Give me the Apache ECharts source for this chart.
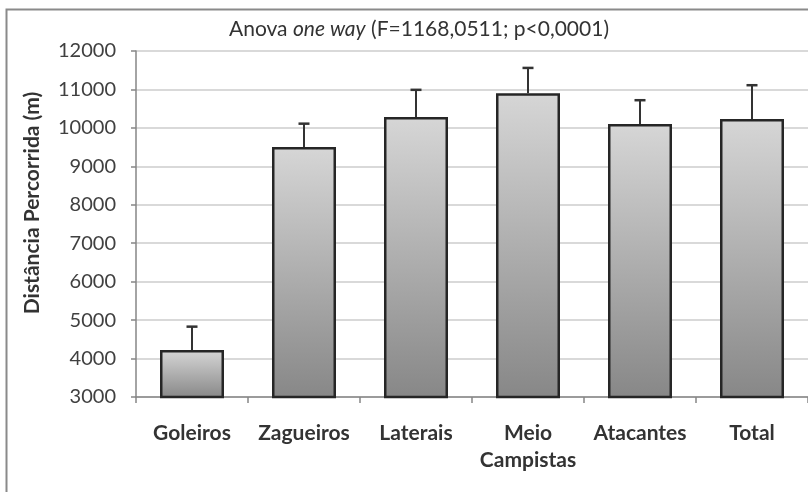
<!DOCTYPE html>
<html>
<head>
<meta charset="utf-8">
<script src="https://cdn.jsdelivr.net/npm/echarts@6/dist/echarts.min.js"></script>
<style>
html,body{margin:0;padding:0;background:#fff;}
#chart{width:808px;height:492px;}
</style>
</head>
<body>
<div id="chart"></div>
<script>
const categories = ['Goleiros', 'Zagueiros', 'Laterais', 'Meio\nCampistas', 'Atacantes', 'Total'];
const means = [4220, 9500, 10280, 10900, 10100, 10230];
const sds = [610, 610, 710, 660, 620, 880];
const yTicks = { min: 3000, max: 12000, interval: 1000 };

const FONT = 'Lato';
const chart = echarts.init(document.getElementById('chart'));

const errData = means.map((m, i) => [i, m, sds[i]]);

chart.setOption({
  animation: false,
  backgroundColor: '#ffffff',
  textStyle: { fontFamily: FONT },
  title: {
    text: '{n|Anova }{i|one way}{n| (F=1168,0511; p<0,0001)}',
    left: 414,
    textAlign: 'center',
    top: 14,
    textStyle: {
      fontWeight: 'normal',
      rich: {
        n: { fontFamily: FONT, fontSize: 21, color: '#333333', fontWeight: 'normal' },
        i: { fontFamily: FONT, fontSize: 21, color: '#333333', fontStyle: 'italic', fontWeight: 'normal' }
      }
    }
  },
  graphic: [
    {
      type: 'rect',
      shape: { x: 6.5, y: 9.5, width: 900, height: 600 },
      style: { fill: 'none', stroke: '#8a8a8a', lineWidth: 2 },
      silent: true
    },
    {
      type: 'text',
      x: 32,
      y: 203,
      rotation: Math.PI / 2,
      style: {
        text: 'Distância Percorrida (m)',
        fontFamily: FONT,
        fontSize: 21,
        fontWeight: 'bold',
        fill: '#333333',
        align: 'center',
        verticalAlign: 'middle'
      }
    }
  ],
  grid: { left: 136, top: 51, width: 686, height: 346, containLabel: false },
  xAxis: {
    type: 'category',
    data: categories,
    axisLine: { lineStyle: { color: '#868686', width: 1.5 } },
    axisTick: { show: true, length: 6, interval: 0, alignWithLabel: false, lineStyle: { color: '#868686', width: 1.5 } },
    axisLabel: {
      interval: 0,
      margin: 23,
      fontFamily: FONT,
      fontSize: 21,
      fontWeight: 'bold',
      color: '#333333',
      lineHeight: 27
    },
    splitLine: { show: false }
  },
  yAxis: {
    type: 'value',
    min: yTicks.min,
    max: yTicks.max,
    interval: yTicks.interval,
    axisLine: { show: true, lineStyle: { color: '#868686', width: 1.5 } },
    axisTick: { show: true, length: 5, lineStyle: { color: '#868686', width: 1.5 } },
    axisLabel: {
      margin: 20,
      fontFamily: FONT,
      fontSize: 20,
      color: '#404040',
      formatter: function (v) { return String(v); }
    },
    splitLine: { show: true, lineStyle: { color: '#d9d9d9', width: 2 } }
  },
  series: [
    {
      type: 'bar',
      data: means,
      barWidth: 64,
      itemStyle: {
        color: new echarts.graphic.LinearGradient(0, 0, 0, 1, [
          { offset: 0, color: '#d6d6d6' },
          { offset: 1, color: '#878787' }
        ]),
        borderColor: '#262626',
        borderWidth: 2.5
      },
      z: 2
    },
    {
      type: 'custom',
      data: errData,
      z: 3,
      renderItem: function (params, api) {
        const x = api.value(0), v = api.value(1), sd = api.value(2);
        const base = api.coord([x, v]);
        const top = api.coord([x, v + sd]);
        const half = 5.5;
        return {
          type: 'group',
          children: [
            { type: 'line', shape: { x1: base[0], y1: base[1], x2: top[0], y2: top[1] }, style: { stroke: '#333333', lineWidth: 2 } },
            { type: 'line', shape: { x1: top[0] - half, y1: top[1], x2: top[0] + half, y2: top[1] }, style: { stroke: '#333333', lineWidth: 2.5 } }
          ]
        };
      }
    }
  ]
});
</script>
</body>
</html>
